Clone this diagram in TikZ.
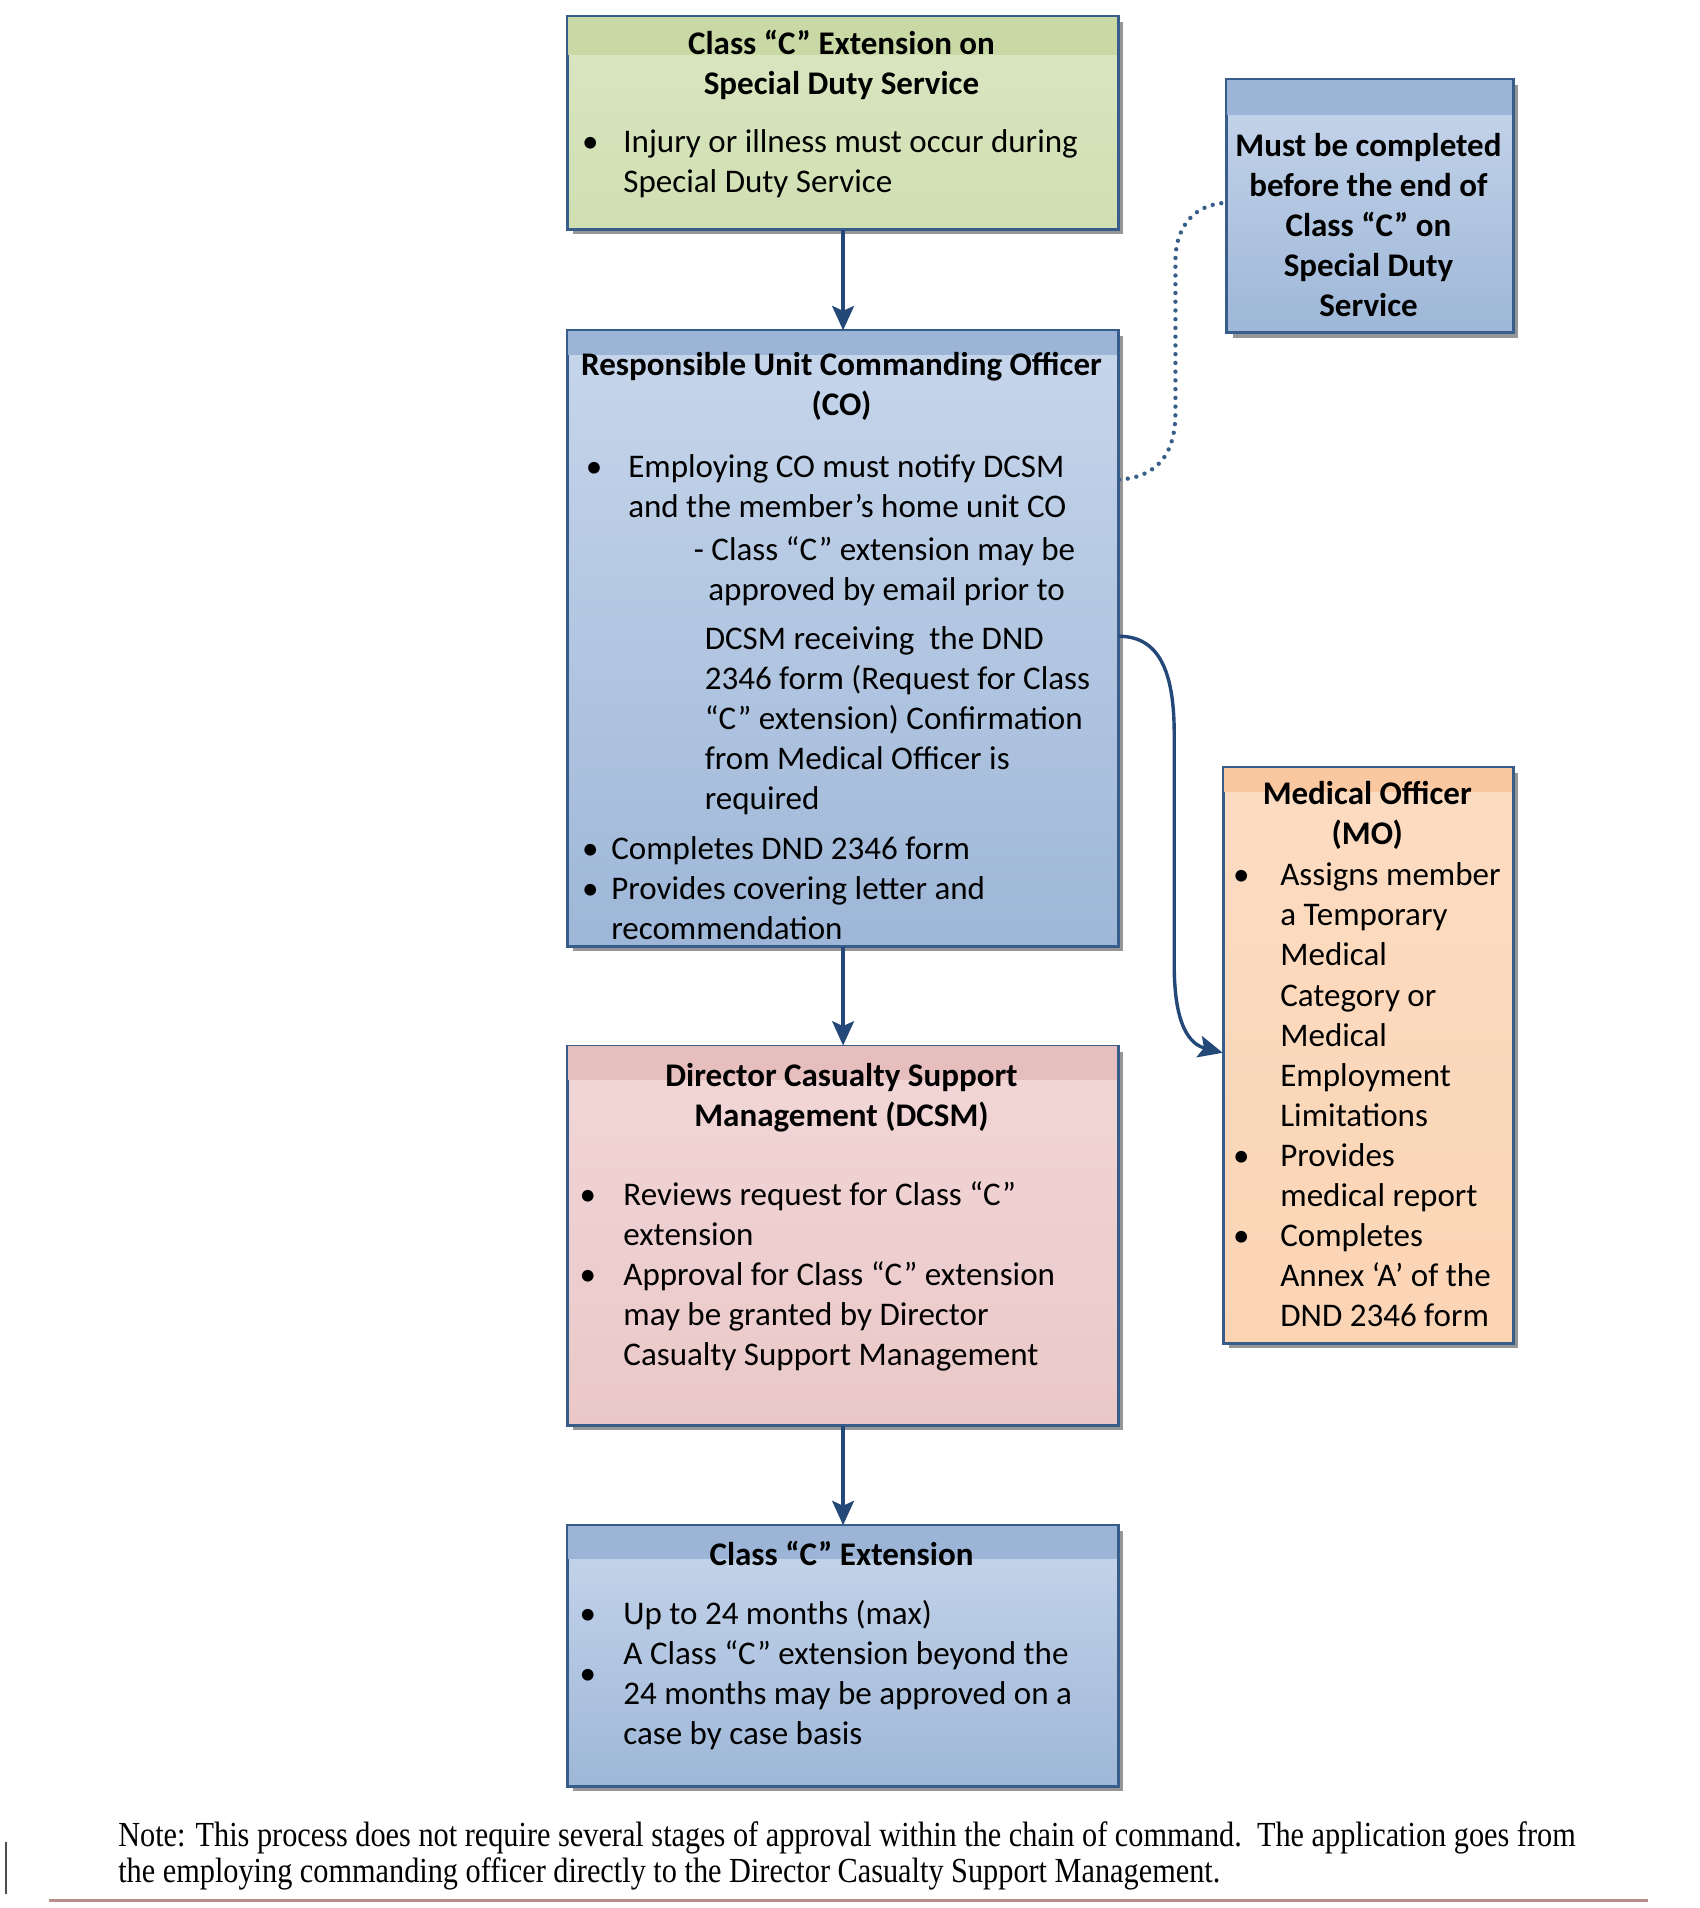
\documentclass[tikz,border=0pt]{standalone}
\usepackage{fontspec}
\setmainfont{Carlito}
\newfontfamily\notefont{Liberation Serif}[FakeStretch=0.86]
\usetikzlibrary{arrows.meta,calc}
\definecolor{bord}{RGB}{56,93,138}
\definecolor{arrc}{RGB}{36,72,120}
\definecolor{gband}{RGB}{200,217,166}
\definecolor{gtop}{RGB}{218,230,194}
\definecolor{gbot}{RGB}{208,223,178}
\definecolor{bband}{RGB}{156,181,214}
\definecolor{btop}{RGB}{199,214,235}
\definecolor{bbot}{RGB}{158,183,216}
\definecolor{pband}{RGB}{231,190,190}
\definecolor{ptop}{RGB}{242,214,214}
\definecolor{pbot}{RGB}{234,200,200}
\definecolor{oband}{RGB}{250,200,160}
\definecolor{otop}{RGB}{252,220,194}
\definecolor{obot}{RGB}{251,212,180}
\definecolor{shad}{RGB}{150,150,150}
\definecolor{rulec}{RGB}{185,140,140}
\tikzset{
 boxnode/.style={draw=bord, line width=0.8pt, inner sep=0pt, anchor=north west, rectangle},
 bodytxt/.style={inner sep=0pt, anchor=north west, align=left, font=\fontsize{13.6pt}{16.5pt}\selectfont},
 titletxt/.style={inner sep=0pt, anchor=north, align=center, font=\bfseries\fontsize{13.6pt}{16.5pt}\selectfont},
 arr/.style={draw=arrc, line width=1.4pt, -{Stealth[length=10pt,width=9pt,inset=2pt]}},
 dotc/.style={draw=bord, line width=1.8pt, line cap=round, dash pattern=on 0pt off 3.6pt},
}
\newcommand\drawbox[9]{%
 \fill[shad] (#2+5,#3+5) rectangle (#4+5,#5+5);
 \node[boxnode, top color=#7, bottom color=#8, minimum width={(#4-#2)*0.5pt}, minimum height={(#5-#3)*0.5pt}] (#1) at (#2,#3) {};
 \fill[#6] (#2,#3) rectangle (#4,#3+#9);
 \draw[bord, line width=0.8pt] (#1.north west) rectangle (#1.south east);
}
\newcommand\bl[1]{\makebox[#1][l]{\textbullet}}
\begin{document}
\begin{tikzpicture}[x=0.5pt,y=-0.5pt]
\useasboundingbox (0,0) rectangle (1400,1571.3);
% boxes
\drawbox{gbox}{467}{13}{920}{188}{gband}{gtop}{gbot}{32}
\drawbox{cobox}{467}{272}{920}{778}{bband}{btop}{bbot}{20}
\drawbox{dbox}{467}{861}{920}{1173}{pband}{ptop}{pbot}{28}
\drawbox{ebox}{467}{1256}{920}{1470}{bband}{btop}{bbot}{28}
\drawbox{rbox}{1010}{65}{1245}{273}{bband}{btop}{bbot}{30}
\drawbox{mobox}{1007}{632}{1245}{1105}{oband}{otop}{obot}{20}
% green box text
\node[titletxt] (gT) at (693,21) {\strut Class “C” Extension on\\Special Duty Service};
\node[bodytxt] (gB) at (479,102) {\strut\bl{17pt}Injury or illness must occur during\\\hspace*{17pt}Special Duty Service};
% CO text
\node[titletxt] (coT) at (693,286) {\strut Responsible Unit Commanding Officer\\(CO)};
\node[bodytxt] (coB) at (482,370) {\strut\bl{17.5pt}Employing CO must notify DCSM\\
\hspace*{17.5pt}and the member’s home unit CO\\[1pt]
\hspace*{44.5pt}- Class “C” extension may be\\
\hspace*{50.5pt}approved by email prior to\\[3.5pt]
\hspace*{49pt}DCSM receiving\ \ the DND\\
\hspace*{49pt}2346 form (Request for Class\\
\hspace*{49pt}“C” extension) Confirmation\\
\hspace*{49pt}from Medical Officer is\\
\hspace*{49pt}required\\[4pt]
\hspace*{-1.5pt}\bl{12pt}Completes DND 2346 form\\
\hspace*{-1.5pt}\bl{12pt}Provides covering letter and\\
\hspace*{10.5pt}recommendation};
% DCSM text
\node[titletxt] (dT) at (693,871) {\strut Director Casualty Support\\Management (DCSM)};
\node[bodytxt] (dB) at (477,969) {\strut\bl{18pt}Reviews request for Class “C”\\
\hspace*{18pt}extension\\
\bl{18pt}Approval for Class “C” extension\\
\hspace*{18pt}may be granted by Director\\
\hspace*{18pt}Casualty Support Management};
% Extension text
\node[titletxt] (eT) at (693,1266) {\strut Class “C” Extension};
\node[bodytxt] (eB) at (477,1314) {\strut\bl{18pt}Up to 24 months (max)\\
\hspace*{18pt}A Class “C” extension beyond the\\
\hspace*{18pt}24 months may be approved on a\\
\hspace*{18pt}case by case basis};
\node[inner sep=0pt, anchor=west, font=\fontsize{13.6pt}{16.5pt}\selectfont] (eBul) at (477,1381) {\textbullet};
% right note box
\node[titletxt] (rT) at (1127,105) {\strut Must be completed\\before the end of\\Class “C” on\\Special Duty\\Service};
% MO text
\node[titletxt] (moT) at (1126,639) {\strut Medical Officer\\(MO)};
\node[bodytxt] (moB) at (1015,706) {\strut\bl{19.5pt}Assigns member\\
\hspace*{19.5pt}a Temporary\\
\hspace*{19.5pt}Medical\\
\hspace*{19.5pt}Category or\\
\hspace*{19.5pt}Medical\\
\hspace*{19.5pt}Employment\\
\hspace*{19.5pt}Limitations\\
\bl{19.5pt}Provides\\
\hspace*{19.5pt}medical report\\
\bl{19.5pt}Completes\\
\hspace*{19.5pt}Annex ‘A’ of the\\
\hspace*{19.5pt}DND 2346 form};
% connectors
\draw[arr] (gbox.south) -- (cobox.north);
\draw[arr] (cobox.south) -- (dbox.north);
\draw[arr] (dbox.south) -- (ebox.north);
\draw[arr] (cobox.east |- 0,524) .. controls (958,524) and (967,560) .. (967,605) -- (967,795) .. controls (967,845) and (980,860) .. (mobox.west |- 0,867);
\draw[dotc] (cobox.east |- 0,395) .. controls (952,393) and (968,375) .. (968,340) -- (968,215) .. controls (968,185) and (985,168) .. (rbox.west |- 0,167);
% note
\node[inner sep=0pt, anchor=north west, align=left, font=\notefont\fontsize{14.5pt}{15pt}\selectfont] (note) at (97,1499) {\strut Note: This process does not require several stages of approval within the chain of command.\ \ The application goes from\\the employing commanding officer directly to the Director Casualty Support Management.};
\draw[black!70, line width=0.6pt] (5,1517) -- (5,1560);
\draw[rulec, line width=1.5pt] (40,1565) -- (1357,1565);
\end{tikzpicture}
\end{document}
